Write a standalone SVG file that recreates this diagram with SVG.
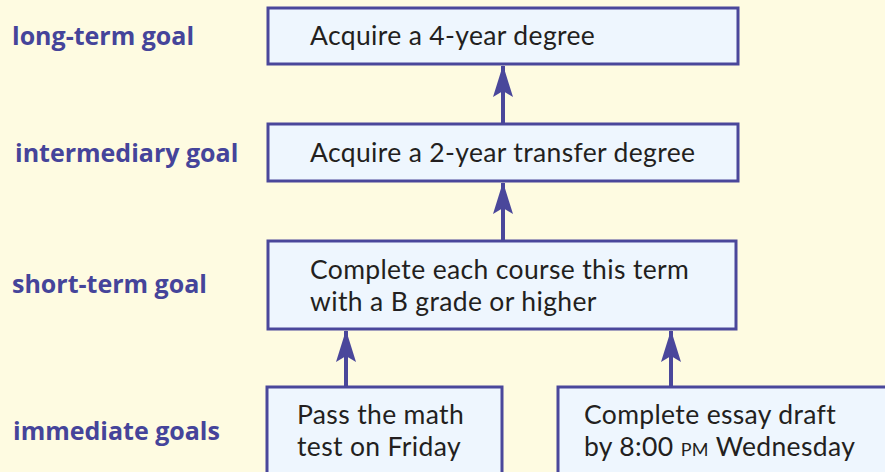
<svg xmlns="http://www.w3.org/2000/svg" width="885" height="472" viewBox="0 0 885 472">
<style>
.bg{fill:#FEFBE1}
.box{fill:#EEF6FE;stroke:#4A479B;stroke-width:3}
.t{font-family:Lato,"Open Sans","Liberation Sans",sans-serif;font-size:26.5px;letter-spacing:0.35px;fill:#231F20}
.lbl{font-family:"Open Sans","Liberation Sans",sans-serif;font-size:25px;font-weight:bold;fill:#45449A}
.sc{font-size:18px}
.line{stroke:#4A479B;stroke-width:4;fill:none}
</style>
<defs>
<marker id="ah" markerUnits="userSpaceOnUse" markerWidth="32" markerHeight="22" viewBox="0 0 32 22" refX="31" refY="11" orient="auto">
<path d="M32,11 L0,1 L6,11 L0,21 Z" fill="#4A479B"/>
</marker>
</defs>
<rect class="bg" x="0" y="0" width="885" height="472"/>
<g id="labels">
<text class="lbl" x="12" y="45">long-term goal</text>
<text class="lbl" x="15" y="162">intermediary goal</text>
<text class="lbl" x="12" y="293">short-term goal</text>
<text class="lbl" x="13" y="440">immediate goals</text>
</g>
<g id="connectors">
<line class="line" x1="503" y1="124" x2="503" y2="66" marker-end="url(#ah)"/>
<line class="line" x1="503" y1="241" x2="503" y2="183" marker-end="url(#ah)"/>
<line class="line" x1="346" y1="387" x2="346" y2="331" marker-end="url(#ah)"/>
<line class="line" x1="671" y1="387" x2="671" y2="331" marker-end="url(#ah)"/>
</g>
<g id="long-term">
<rect class="box" x="268" y="8" width="470" height="56"/>
<text class="t" x="310" y="45">Acquire a 4-year degree</text>
</g>
<g id="intermediary">
<rect class="box" x="268" y="124" width="470" height="57"/>
<text class="t" x="310" y="162">Acquire a 2-year transfer degree</text>
</g>
<g id="short-term">
<rect class="box" x="268" y="241" width="468" height="88"/>
<text class="t" x="310" y="279">Complete each course this term</text>
<text class="t" x="310" y="311">with a B grade or higher</text>
</g>
<g id="immediate-1">
<rect class="box" x="267" y="387" width="235" height="100"/>
<text class="t" x="297" y="424">Pass the math</text>
<text class="t" x="297" y="456">test on Friday</text>
</g>
<g id="immediate-2">
<rect class="box" x="558" y="387" width="400" height="100"/>
<text class="t" x="584" y="424">Complete essay draft</text>
<text class="t" x="584" y="456">by 8:00 <tspan class="sc">PM</tspan> Wednesday</text>
</g>
</svg>
